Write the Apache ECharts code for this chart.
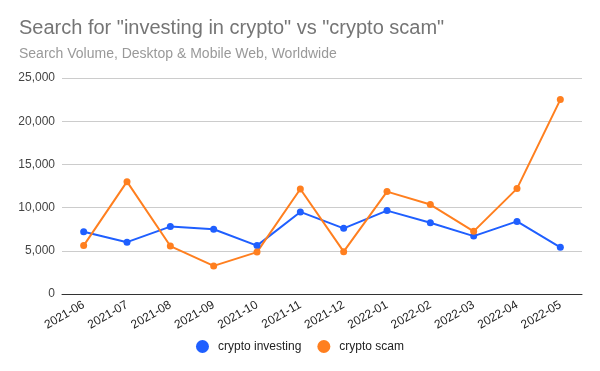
<!DOCTYPE html>
<html><head><meta charset="utf-8">
<script src="https://cdn.jsdelivr.net/npm/echarts@6/dist/echarts.min.js"></script>
<style>html,body{margin:0;padding:0;background:#fff}#c{width:600px;height:371px}</style>
</head><body><div id="c"></div>
<script>
const categories = ["2021-06","2021-07","2021-08","2021-09","2021-10","2021-11","2021-12","2022-01","2022-02","2022-03","2022-04","2022-05"];
const cryptoInvesting = [7200,6000,7800,7500,5600,9500,7600,9650,8250,6700,8400,5400];
const cryptoScam = [5600,13000,5550,3250,4850,12150,4900,11850,10350,7250,12200,22500];
const seriesNames = ["crypto investing","crypto scam"];
const chart = echarts.init(document.getElementById('c'));
const F = '"Liberation Sans", Arial, sans-serif';
chart.setOption({
  animation:false,
  title:{text:'Search for "investing in crypto" vs "crypto scam"',subtext:'Search Volume, Desktop & Mobile Web, Worldwide',left:14,top:13,itemGap:9,
    textStyle:{fontFamily:F,fontSize:20,fontWeight:'normal',color:'#757575'},
    subtextStyle:{fontFamily:F,fontSize:14,color:'#999999'}},
  legend:{bottom:13,left:'center',itemWidth:13,itemHeight:13,itemGap:16,icon:'circle',
    textStyle:{fontFamily:F,fontSize:12,color:'#222',padding:[0,0,0,4]},data:seriesNames},
  grid:{left:62,right:18,top:78,bottom:77},
  xAxis:{type:'category',data:categories,boundaryGap:true,
    axisLine:{lineStyle:{color:'#333',width:1}},axisTick:{show:false},
    axisLabel:{rotate:30,fontFamily:F,fontSize:12,color:'#222',margin:10,interval:0}},
  yAxis:{type:'value',min:0,max:25000,interval:5000,
    axisLine:{show:false},axisTick:{show:false},
    splitLine:{lineStyle:{color:'#cccccc'}},
    axisLabel:{fontFamily:F,fontSize:12,color:'#444',margin:7,
      formatter:v=>v.toLocaleString('en-US')}},
  series:[
    {name:seriesNames[0],type:'line',data:cryptoInvesting,color:'#1f5fff',symbol:'circle',symbolSize:7,lineStyle:{width:2}},
    {name:seriesNames[1],type:'line',data:cryptoScam,color:'#ff7f1f',symbol:'circle',symbolSize:7,lineStyle:{width:2}}
  ]
});
</script></body></html>
